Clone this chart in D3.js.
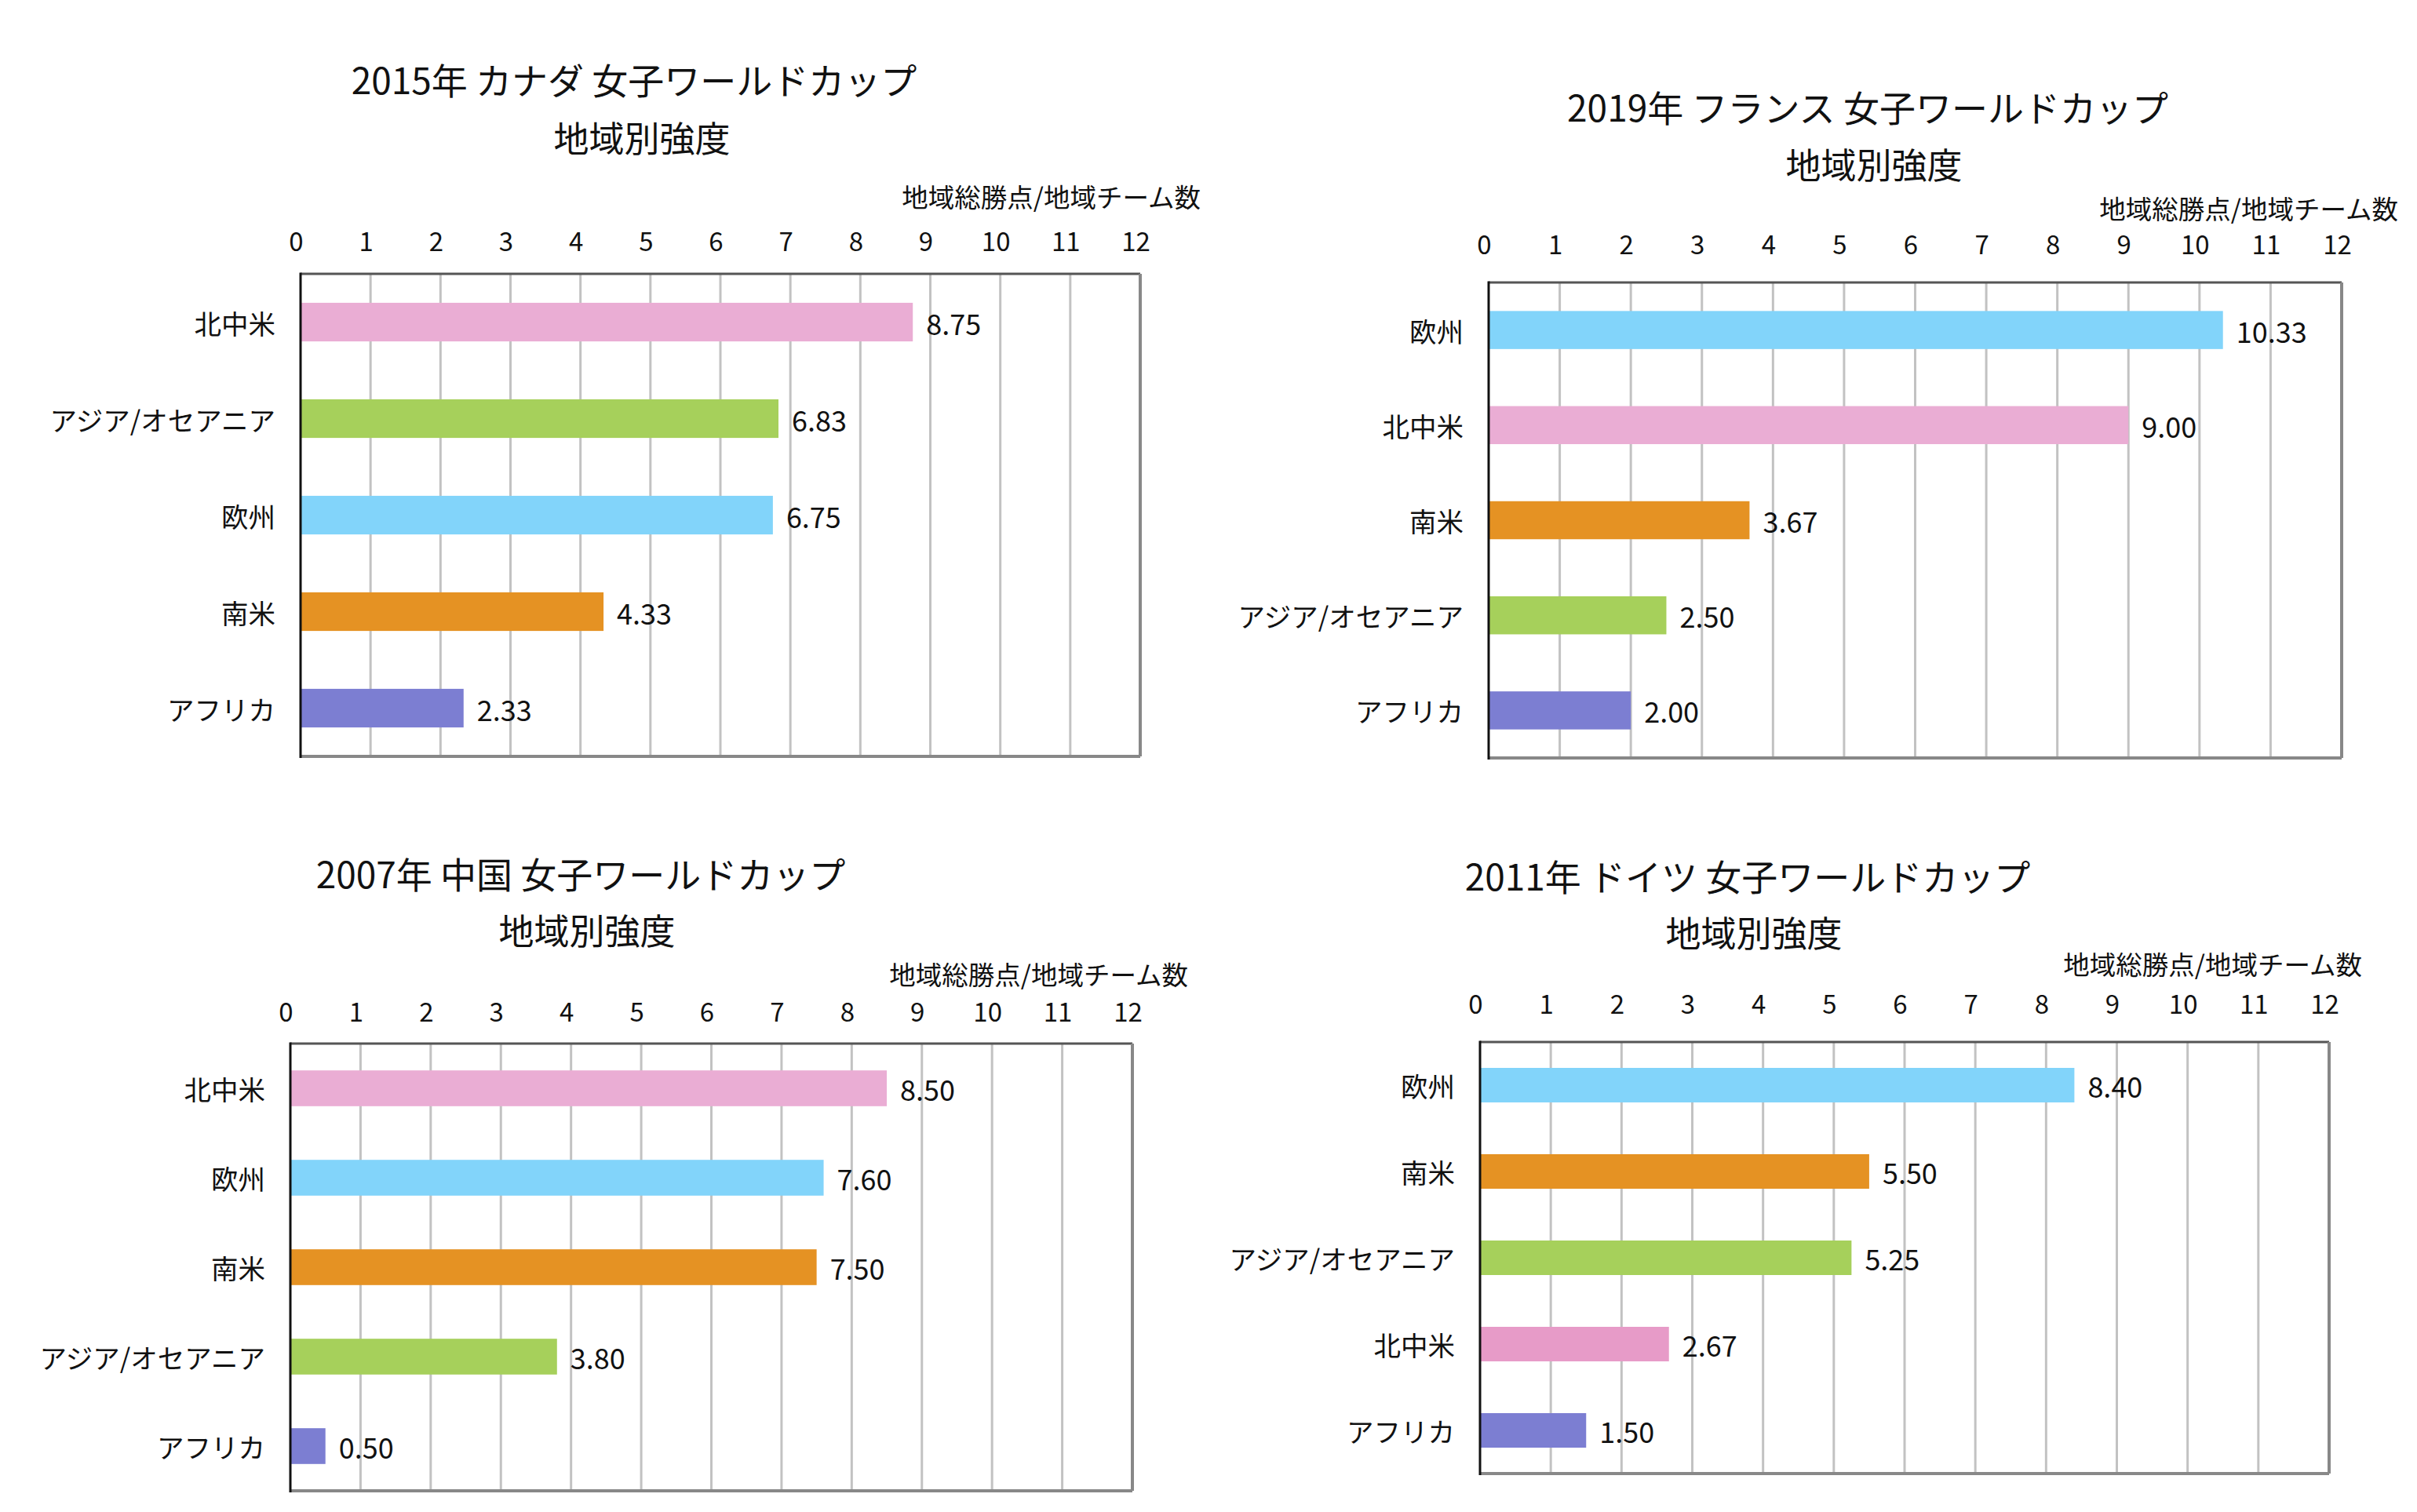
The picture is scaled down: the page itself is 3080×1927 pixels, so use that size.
<!DOCTYPE html>
<html>
<head>
<meta charset="utf-8">
<script src="https://cdn.jsdelivr.net/npm/d3@7"></script>
<style>
  html, body { margin: 0; padding: 0; background: #ffffff; }
  svg { display: block; }
  text { font-family: "Noto Sans CJK JP", "Noto Sans", sans-serif; fill: #111; }
</style>
</head>
<body>
<svg id="chart" width="3080" height="1927"></svg>
<script>
// ---------- DATA ----------
const subtitle = "地域別強度";
const axisTitle = "地域総勝点/地域チーム数";
const tickValues = [0, 1, 2, 3, 4, 5, 6, 7, 8, 9, 10, 11, 12];

const title2015 = "2015年 カナダ 女子ワールドカップ";
const categories2015 = ["北中米", "アジア/オセアニア", "欧州", "南米", "アフリカ"];
const values2015 = [8.75, 6.83, 6.75, 4.33, 2.33];

const title2019 = "2019年 フランス 女子ワールドカップ";
const categories2019 = ["欧州", "北中米", "南米", "アジア/オセアニア", "アフリカ"];
const values2019 = [10.33, 9.00, 3.67, 2.50, 2.00];

const title2007 = "2007年 中国 女子ワールドカップ";
const categories2007 = ["北中米", "欧州", "南米", "アジア/オセアニア", "アフリカ"];
const values2007 = [8.50, 7.60, 7.50, 3.80, 0.50];

const title2011 = "2011年 ドイツ 女子ワールドカップ";
const categories2011 = ["欧州", "南米", "アジア/オセアニア", "北中米", "アフリカ"];
const values2011 = [8.40, 5.50, 5.25, 2.67, 1.50];

// ---------- STYLE ----------
const regionColor = {
  "北中米": "#EAADD4",
  "アジア/オセアニア": "#A6D05B",
  "欧州": "#82D4FA",
  "南米": "#E59223",
  "アフリカ": "#7C7ED2"
};
const regionColor2011 = Object.assign({}, regionColor, { "北中米": "#E79BC8" });

// ---------- LAYOUT ----------
const panels = [
  { title: title2015, cats: categories2015, vals: values2015, colors: regionColor,
    frame: { x0: 383, x1: 1453, y0: 349, y1: 964 },
    t1: [808, 100], t2: [818, 174], axT: [1530, 249], tickY: 306 },
  { title: title2019, cats: categories2019, vals: values2019, colors: regionColor,
    frame: { x0: 1897, x1: 2984, y0: 360, y1: 966 },
    t1: [2380, 135], t2: [2388, 208], axT: [3056, 264], tickY: 310 },
  { title: title2007, cats: categories2007, vals: values2007, colors: regionColor,
    frame: { x0: 370, x1: 1443, y0: 1330, y1: 1900 },
    t1: [740, 1112], t2: [748, 1184], axT: [1514, 1240], tickY: 1288 },
  { title: title2011, cats: categories2011, vals: values2011, colors: regionColor2011,
    frame: { x0: 1886, x1: 2968, y0: 1328, y1: 1878 },
    t1: [2227, 1115], t2: [2235, 1187], axT: [3010, 1227], tickY: 1278 }
];

const svg = d3.select("#chart");
const fmt = d3.format(".2f");

panels.forEach(p => {
  const f = p.frame;
  const g = svg.append("g");
  const x = d3.scaleLinear().domain([0, 12]).range([f.x0, f.x1]);
  const y = d3.scaleBand().domain(p.cats).range([f.y0, f.y1])
    .paddingInner(0.6).paddingOuter(0.3);

  // titles
  g.append("text").attr("x", p.t1[0]).attr("y", p.t1[1])
    .attr("text-anchor", "middle").attr("dominant-baseline", "central")
    .attr("font-size", 46).attr("font-weight", 400).text(p.title);
  g.append("text").attr("x", p.t2[0]).attr("y", p.t2[1])
    .attr("text-anchor", "middle").attr("dominant-baseline", "central")
    .attr("font-size", 45).attr("font-weight", 400).text(subtitle);
  g.append("text").attr("x", p.axT[0]).attr("y", p.axT[1])
    .attr("text-anchor", "end").attr("dominant-baseline", "central")
    .attr("font-size", 33.5).text(axisTitle);

  // tick labels via d3 axis
  const ax = g.append("g").attr("transform", `translate(0,${p.tickY})`)
    .call(d3.axisTop(x).tickValues(tickValues).tickSize(0).tickPadding(0).tickFormat(d3.format("d")));
  ax.select(".domain").remove();
  ax.selectAll("text")
    .attr("y", 0).attr("dy", null).attr("dx", -6)
    .attr("dominant-baseline", "central")
    .attr("font-size", 33)
    .attr("font-family", "'Noto Sans CJK JP', 'Noto Sans', sans-serif")
    .attr("fill", "#111");

  // gridlines
  g.append("g").selectAll("line").data(tickValues.filter(v => v > 0 && v < 12)).join("line")
    .attr("x1", d => x(d)).attr("x2", d => x(d))
    .attr("y1", f.y0).attr("y2", f.y1)
    .attr("stroke", "#C2C2C2").attr("stroke-width", 3);

  // bars
  g.append("g").selectAll("rect").data(p.cats).join("rect")
    .attr("x", x(0)).attr("y", d => y(d))
    .attr("width", (d, i) => x(p.vals[i]) - x(0))
    .attr("height", y.bandwidth())
    .attr("fill", d => p.colors[d]);

  // value labels
  g.append("g").selectAll("text").data(p.cats).join("text")
    .attr("x", (d, i) => x(p.vals[i]) + 17)
    .attr("y", d => y(d) + y.bandwidth() / 2)
    .attr("dominant-baseline", "central")
    .attr("font-size", 36)
    .text((d, i) => fmt(p.vals[i]));

  // category labels
  g.append("g").selectAll("text").data(p.cats).join("text")
    .attr("x", f.x0 - 32)
    .attr("y", d => y(d) + y.bandwidth() / 2)
    .attr("text-anchor", "end").attr("dominant-baseline", "central")
    .attr("font-size", 34.5)
    .text(d => d);

  // frame
  g.append("line").attr("x1", f.x0).attr("x2", f.x1).attr("y1", f.y0).attr("y2", f.y0)
    .attr("stroke", "#555").attr("stroke-width", 3);
  g.append("line").attr("x1", f.x1).attr("x2", f.x1).attr("y1", f.y0).attr("y2", f.y1)
    .attr("stroke", "#888").attr("stroke-width", 4);
  g.append("line").attr("x1", f.x0).attr("x2", f.x1).attr("y1", f.y1).attr("y2", f.y1)
    .attr("stroke", "#888").attr("stroke-width", 4);
  g.append("line").attr("x1", f.x0).attr("x2", f.x0).attr("y1", f.y0 - 1.5).attr("y2", f.y1 + 2)
    .attr("stroke", "#111").attr("stroke-width", 3);
});
</script>
</body>
</html>
